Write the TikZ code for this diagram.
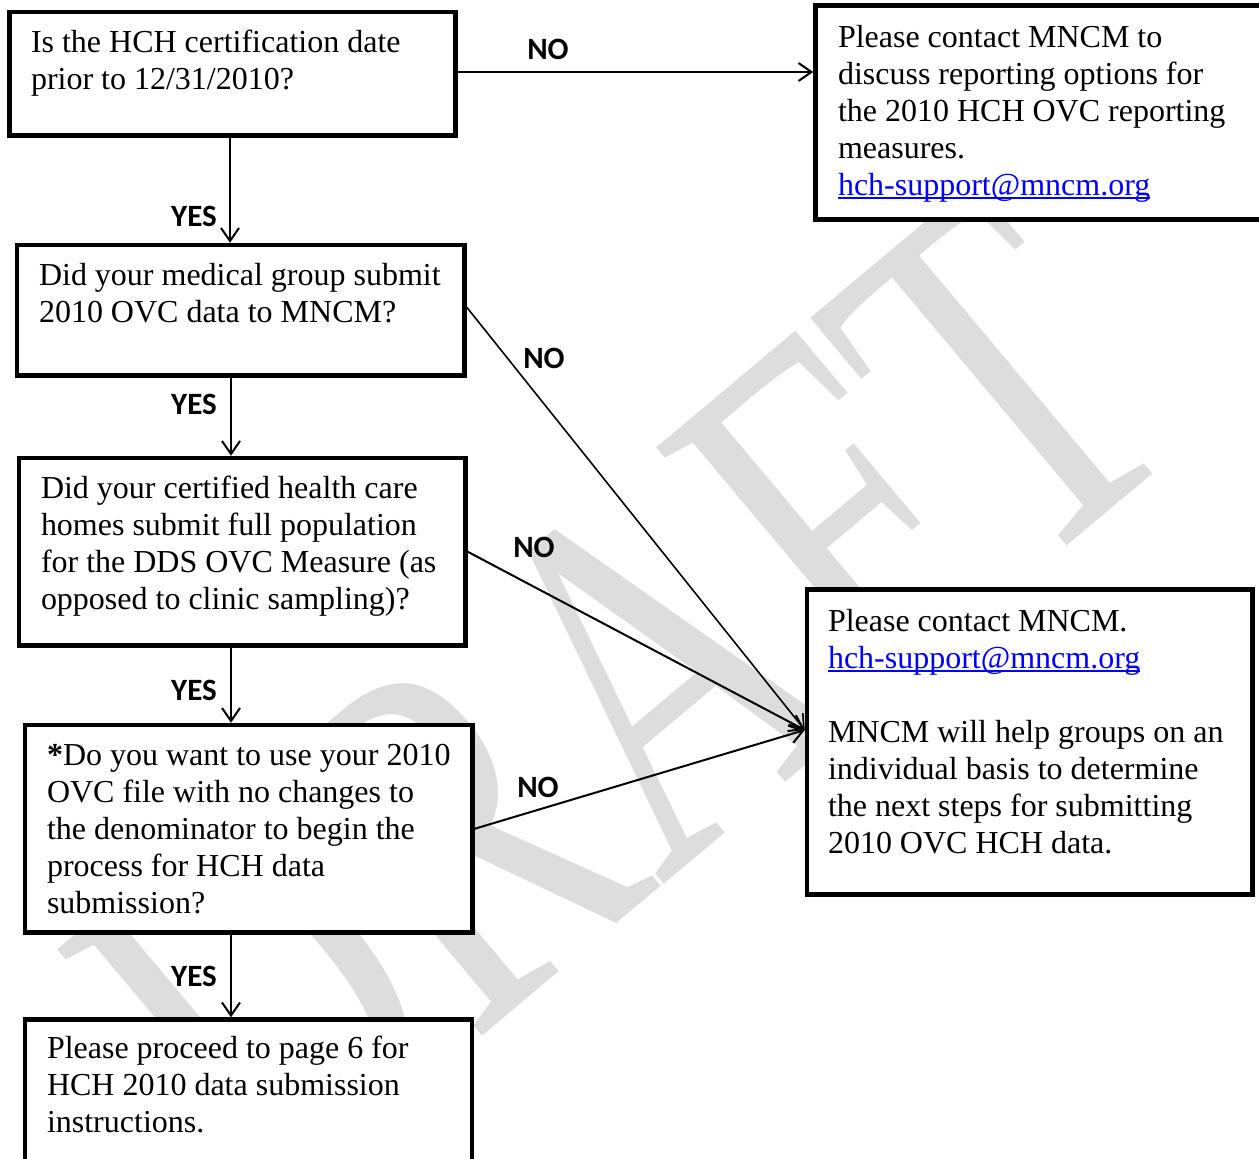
\documentclass[tikz,border=0pt]{standalone}
\usepackage{fontspec}
\setmainfont{Liberation Serif}
\newfontfamily\lblfont{Carlito}
\usetikzlibrary{arrows.meta}
\definecolor{wmgray}{RGB}{221,221,221}
\definecolor{linkblue}{RGB}{0,0,255}
\newcommand\mylink[1]{\leavevmode{\color{linkblue}\setbox0\hbox{#1}\rlap{\rule[-4pt]{\wd0}{1.6pt}}\box0}}
\newcommand\bxtext[5]{\parbox[c][#2][t]{#1}{\vspace*{\dimexpr #4-24pt\relax}\raggedright\leftskip=#3\relax\rule{0pt}{24pt}#5}}
\begin{document}
\begin{tikzpicture}[x=1pt,y=-1pt,
  box/.style={draw, line width=4.5pt, fill=white, inner sep=0pt, font=\fontsize{32}{37}\selectfont},
  conn/.style={line width=2pt, -{Straight Barb[length=13pt,width=18pt]}},
  lbl/.style={font=\lblfont\bfseries\fontsize{31}{31}\selectfont, inner sep=0pt},
  wm/.style={font=\fontsize{370}{370}\selectfont, text=wmgray, inner sep=0pt, rotate=40, yscale=1.4}]
\useasboundingbox (0,0) rectangle (1259,1159);
\clip (0,0) rectangle (1259,1159);
% watermark
\node[wm] (wmk) at (623,696) {DRAFT};
% boxes
\node[box] (B1) at (232.5,73.75) {\bxtext{446pt}{123.5pt}{21.5pt}{40pt}{Is the HCH certification date\\ prior to 12/31/2010?}};
\node[box] (B2) at (240.75,310.25) {\bxtext{447.5pt}{130.5pt}{22pt}{40pt}{Did your medical group submit\\ 2010 OVC data to MNCM?}};
\node[box] (B3) at (242.25,551.75) {\bxtext{446.5pt}{187.5pt}{22pt}{40pt}{Did your certified health care\\ homes submit full population\\ for the DDS OVC Measure (as\\ opposed to clinic sampling)?}};
\node[box] (B4) at (248.75,828.75) {\bxtext{447.5pt}{207.5pt}{22pt}{40pt}{\textbf{*}Do you want to use your 2010\\ OVC file with no changes to\\ the denominator to begin the\\ process for HCH data\\ submission?}};
\node[box] (B5) at (248.5,1109.75) {\bxtext{447pt}{180.5pt}{22pt}{38.5pt}{Please proceed to page 6 for\\ HCH 2010 data submission\\ instructions.}};
\node[box] (B6) at (1057.75,112.5) {\bxtext{484.5pt}{214pt}{22.5pt}{41.5pt}{Please contact MNCM to\\ discuss reporting options for\\ the 2010 HCH OVC reporting\\ measures.\\ \mylink{hch-support@mncm.org}}};
\node[box] (B7) at (1029.75,742) {\bxtext{445.5pt}{305pt}{21pt}{41.5pt}{Please contact MNCM.\\ \mylink{hch-support@mncm.org}\\[37pt] MNCM will help groups on an\\ individual basis to determine\\ the next steps for submitting\\ 2010 OVC HCH data.}};
% connectors
\draw[conn] ([yshift=1.75pt]B1.east) -- ([yshift=1.75pt]B1.east -| B6.west);
\draw[conn] ([xshift=-2.5pt]B1.south) -- ([xshift=-2.5pt]B1.south |- B2.north);
\draw[conn] ([xshift=-9.75pt]B2.south) -- ([xshift=-9.75pt]B2.south |- B3.north);
\draw[conn] ([xshift=-11.25pt]B3.south) -- ([xshift=-11.25pt]B3.south |- B4.north);
\draw[conn] ([xshift=-17.75pt]B4.south) -- ([xshift=-17.75pt]B4.south |- B5.north);
\draw[conn, line width=1.6pt] ([yshift=3pt]B2.east) -- ([yshift=12pt]B7.west);
\draw[conn] (B3.east) -- ([yshift=12pt]B7.west);
\draw[conn] (B4.east) -- ([yshift=12pt]B7.west);
% labels
\node[lbl] (n1) at (548,49) {NO};
\node[lbl] (y1) at (194,216) {YES};
\node[lbl] (y2) at (194,404) {YES};
\node[lbl] (y3) at (194,690) {YES};
\node[lbl] (y4) at (194,976) {YES};
\node[lbl] (n2) at (544,358) {NO};
\node[lbl] (n3) at (534,547) {NO};
\node[lbl] (n4) at (538,787) {NO};
\end{tikzpicture}
\end{document}
